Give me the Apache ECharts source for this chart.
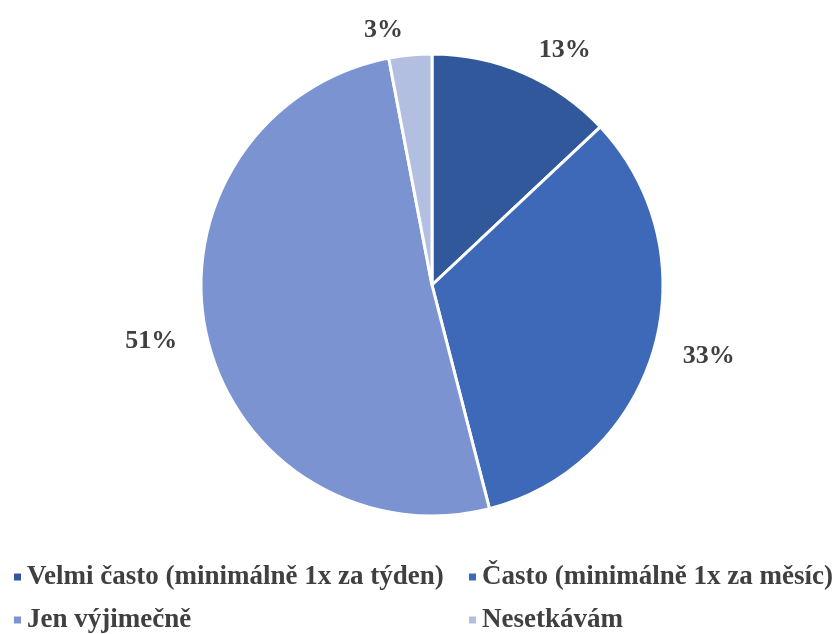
<!DOCTYPE html>
<html><head><meta charset="utf-8">
<script src="https://cdn.jsdelivr.net/npm/echarts@6/dist/echarts.min.js"></script>
<style>html,body{margin:0;padding:0;background:#fff}#c{width:832px;height:634px}</style>
</head><body><div id="c"></div>
<script>
const categories = ['Velmi často (minimálně 1x za týden)', 'Často (minimálně 1x za měsíc)', 'Jen výjimečně', 'Nesetkávám'];
const values = [13, 33, 51, 3];
const colors = ['#30589A', '#3E69B8', '#7B94D1', '#B3BFE0'];

const chart = echarts.init(document.getElementById('c'), null, {renderer: 'canvas'});
const font = "'Liberation Serif', 'Times New Roman', serif";
const legendText = {fontFamily: font, fontWeight: 'bold', fontSize: 27, color: '#404040', lineHeight: 30};
const legendPos = [[12, 562], [467, 562], [12, 605], [467, 605]];
chart.setOption({
  animation: false,
  color: colors,
  legend: categories.map((c, i) => ({
    orient: 'horizontal', left: legendPos[i][0], top: legendPos[i][1], padding: 0,
    itemWidth: 9, itemHeight: 9, icon: 'rect', itemGap: 10,
    data: [c], textStyle: legendText, selectedMode: false
  })),
  series: [{
    type: 'pie',
    center: [432, 285],
    radius: [0, 231],
    startAngle: 90,
    clockwise: true,
    avoidLabelOverlap: false,
    itemStyle: {borderColor: '#fff', borderWidth: 3},
    label: {show: true, position: 'outside', formatter: '{c}%', fontFamily: font, fontWeight: 'bold',
            fontSize: 26, color: '#404040'},
    labelLine: {show: false, length: 25, length2: 0},
    emphasis: {disabled: true},
    data: categories.map((n, i) => ({name: n, value: values[i]}))
  }]
});
</script></body></html>
